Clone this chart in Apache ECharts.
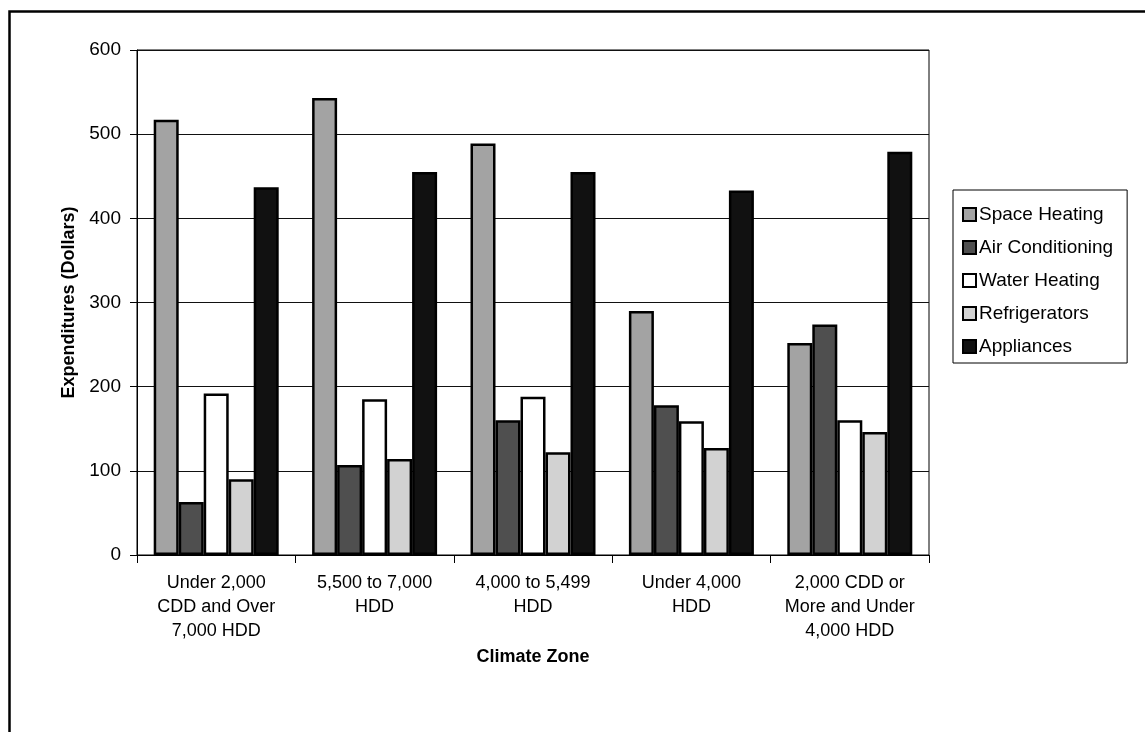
<!DOCTYPE html>
<html>
<head>
<meta charset="utf-8">
<script src="https://cdn.jsdelivr.net/npm/echarts@6/dist/echarts.min.js"></script>
<style>
html,body{margin:0;padding:0;background:#fff;}
#chart{width:1145px;height:732px;}
</style>
</head>
<body>
<div id="chart"></div>
<script>
const categories = [
  "Under 2,000\nCDD and Over\n7,000 HDD",
  "5,500 to 7,000\nHDD",
  "4,000 to 5,499\nHDD",
  "Under 4,000\nHDD",
  "2,000 CDD or\nMore and Under\n4,000 HDD"
];
const seriesNames = ["Space Heating", "Air Conditioning", "Water Heating", "Refrigerators", "Appliances"];
const spaceHeating   = [517, 543, 489, 290, 252];
const airConditioning = [63, 107, 160, 178, 274];
const waterHeating   = [192, 185, 188, 159, 160];
const refrigerators  = [90, 114, 122, 127, 146];
const appliances     = [437, 455, 455, 433, 479];
const yTicks = [0, 100, 200, 300, 400, 500, 600];

const seriesData = [spaceHeating, airConditioning, waterHeating, refrigerators, appliances];
const colors = ["#a3a3a3", "#4f4f4f", "#ffffff", "#d2d2d2", "#111111"];
const FONT = "'Liberation Sans', Arial, sans-serif";

const chart = echarts.init(document.getElementById('chart'), null, {renderer: 'canvas'});
chart.setOption({
  animation: false,
  backgroundColor: '#fff',
  textStyle: {fontFamily: FONT, color: '#000'},
  graphic: [{
    type: 'rect', left: 7, top: 9, z: -10,
    shape: {width: 1160, height: 760},
    style: {fill: 'none', stroke: '#000', lineWidth: 2.5}
  }],
  grid: {left: 137, top: 50, right: 216, bottom: 177, show: true, borderColor: '#000', borderWidth: 1, backgroundColor: 'transparent'},
  legend: {
    orient: 'vertical', left: 953, top: 190,
    padding: [15, 14, 7, 9],
    itemGap: 14, itemWidth: 13, itemHeight: 13,
    icon: 'rect',
    borderColor: '#000', borderWidth: 1,
    textStyle: {fontSize: 19, fontFamily: FONT, color: '#000', padding: [0, 0, 0, -2]},
    data: seriesNames
  },
  xAxis: {
    type: 'category', data: categories,
    name: 'Climate Zone', nameLocation: 'middle', nameGap: 58,
    nameTextStyle: {fontSize: 18, fontWeight: 'bold', fontFamily: FONT, color: '#000', verticalAlign: 'top'},
    axisLine: {lineStyle: {color: '#000', width: 1}},
    axisTick: {show: true, inside: false, length: 8, alignWithLabel: false, lineStyle: {color: '#000'}},
    axisLabel: {fontSize: 18, lineHeight: 24, margin: 16, color: '#000', fontFamily: FONT, interval: 0},
    splitLine: {show: false}
  },
  yAxis: {
    type: 'value', min: yTicks[0], max: yTicks[yTicks.length - 1], interval: 100,
    name: 'Expenditures (Dollars)', nameLocation: 'middle', nameGap: 44,
    nameTextStyle: {fontSize: 18, fontWeight: 'bold', fontFamily: FONT, color: '#000'},
    axisLine: {show: true, lineStyle: {color: '#000', width: 1}},
    axisTick: {show: true, inside: false, length: 7, lineStyle: {color: '#000'}},
    axisLabel: {fontSize: 19, margin: 16, color: '#000', fontFamily: FONT},
    splitLine: {show: true, lineStyle: {color: '#111', width: 1}}
  },
  series: seriesNames.map((n, i) => ({
    name: n, type: 'bar', data: seriesData[i],
    barWidth: 25, barGap: '0%',
    itemStyle: {color: colors[i], borderColor: '#000', borderWidth: 2.5}
  }))
});
</script>
</body>
</html>
